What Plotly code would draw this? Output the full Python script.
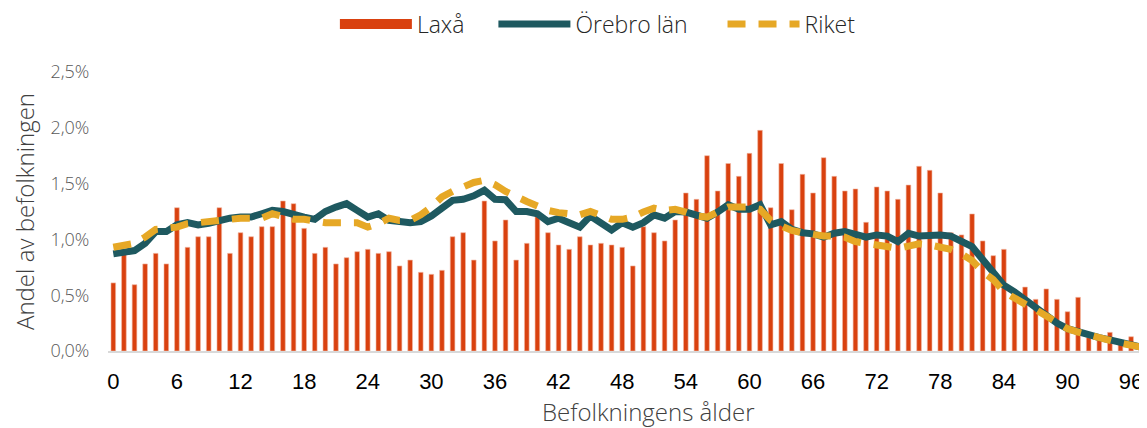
import plotly.graph_objects as go

# Ålder 0-97
ages = list(range(0, 98))

# Andel av befolkningen (%) per ålder
laxa = [0.61, 0.875, 0.594, 0.78, 0.875, 0.78, 1.284, 0.929, 1.024, 1.024,
        1.284, 0.875, 1.06, 1.024, 1.114, 1.114, 1.344, 1.32, 1.099, 0.875,
        0.929, 0.78, 0.836, 0.89, 0.911, 0.875, 0.89, 0.762, 0.815, 0.705,
        0.687, 0.723, 1.024, 1.06, 0.815, 1.344, 0.986, 1.174, 0.815, 0.965,
        1.22, 1.06, 0.95, 0.911, 1.024, 0.95, 0.965, 0.95, 0.929, 0.762,
        1.114, 1.06, 0.986, 1.174, 1.416, 1.359, 1.75, 1.434, 1.68, 1.565,
        1.771, 1.977, 1.284, 1.68, 1.266, 1.583, 1.416, 1.732, 1.565, 1.434,
        1.452, 1.153, 1.47, 1.434, 1.359, 1.487, 1.655, 1.619, 1.416, 1.06,
        1.04, 1.228, 0.986, 0.854, 0.911, 0.48, 0.573, 0.463, 0.556, 0.463,
        0.352, 0.481, 0.12, 0.10, 0.167, 0.07, 0.128, 0.03]

orebro = [0.87, 0.89, 0.90, 0.965, 1.07, 1.07, 1.13, 1.15, 1.13, 1.145,
          1.17, 1.19, 1.20, 1.20, 1.23, 1.26, 1.25, 1.22, 1.20, 1.18,
          1.25, 1.29, 1.32, 1.26, 1.20, 1.23, 1.17, 1.16, 1.15, 1.16,
          1.21, 1.28, 1.35, 1.36, 1.39, 1.44, 1.36, 1.355, 1.25, 1.25,
          1.23, 1.16, 1.19, 1.15, 1.11, 1.21, 1.15, 1.084, 1.15, 1.11,
          1.15, 1.22, 1.19, 1.25, 1.245, 1.22, 1.19, 1.245, 1.31, 1.27,
          1.27, 1.31, 1.13, 1.16, 1.09, 1.06, 1.05, 1.02, 1.055, 1.07,
          1.05, 1.02, 1.04, 1.03, 0.98, 1.055, 1.03, 1.04, 1.04, 1.03,
          0.98, 0.935, 0.82, 0.71, 0.59, 0.53, 0.455, 0.40, 0.32, 0.25,
          0.20, 0.17, 0.14, 0.12, 0.10, 0.075, 0.054, 0.033]

riket = [0.93, 0.95, 0.965, 1.02, 1.09, 1.10, 1.11, 1.14, 1.15, 1.17,
         1.18, 1.18, 1.19, 1.19, 1.19, 1.23, 1.20, 1.18, 1.18, 1.16,
         1.15, 1.15, 1.15, 1.15, 1.11, 1.14, 1.19, 1.17, 1.17, 1.22,
         1.29, 1.38, 1.43, 1.47, 1.51, 1.53, 1.49, 1.43, 1.38, 1.34,
         1.30, 1.26, 1.24, 1.235, 1.22, 1.25, 1.21, 1.18, 1.18, 1.20,
         1.245, 1.28, 1.26, 1.27, 1.245, 1.21, 1.20, 1.245, 1.29, 1.29,
         1.29, 1.27, 1.17, 1.12, 1.08, 1.06, 1.04, 1.03, 1.03, 1.02,
         0.98, 0.965, 0.965, 0.95, 0.92, 0.94, 0.96, 0.95, 0.935, 0.91,
         0.87, 0.81, 0.71, 0.64, 0.53, 0.47, 0.42, 0.37, 0.31, 0.25,
         0.20, 0.17, 0.14, 0.12, 0.095, 0.07, 0.054, 0.033]

tick_ages = list(range(0, 97, 6))
y_ticks = [0, 0.5, 1.0, 1.5, 2.0, 2.5]
y_labels = ["0,0%", "0,5%", "1,0%", "1,5%", "2,0%", "2,5%"]

light = "Open Sans, Lato, sans-serif"
bar_color = "#D9410F"
nb = "\u00a0"  # non-breaking spaces give room between legend entries

fig = go.Figure()

fig.add_trace(go.Bar(
    x=ages, y=laxa, name="Laxå", showlegend=False,
    marker=dict(color=bar_color, line=dict(color="#F1B9A4", width=0.6)),
))
# legend entry for the bars (wide rectangle like the original)
fig.add_trace(go.Scatter(
    x=[None], y=[None], name="Laxå" + nb * 4, mode="lines",
    line=dict(color=bar_color, width=13),
))
fig.add_trace(go.Scatter(
    x=ages, y=orebro, name="Örebro län" + nb * 5, mode="lines",
    line=dict(color="#1E5960", width=7),
))
fig.add_trace(go.Scatter(
    x=ages, y=riket, name="Riket", mode="lines",
    line=dict(color="#E6A826", width=7, dash="18px,13px"),
))

# x title placed as an annotation: in the original it sits right of centre
fig.add_annotation(
    text="Befolkningens ålder", xref="paper", yref="paper",
    x=0.52, y=0, xanchor="center", yanchor="middle", yshift=-60,
    showarrow=False, font=dict(size=24, color="#404040", family=light, weight=300),
)

# page body has an 8px margin, so the figure is sized/placed to compensate
fig.update_layout(
    width=1139, height=420,
    margin=dict(l=100, r=0, t=64, b=77),
    plot_bgcolor="white", paper_bgcolor="white",
    bargap=0.56,
    font=dict(family=light, color="#404040", weight=300),
    showlegend=True,
    legend=dict(
        orientation="h", xref="container", yref="container",
        x=0.287, xanchor="left", y=0.962, yanchor="middle",
        itemwidth=72,
        font=dict(size=23, color="#262626", family=light, weight=300),
        traceorder="normal",
    ),
    xaxis=dict(
        range=[-0.5, 97.5], automargin=False,
        tickmode="array", tickvals=tick_ages, ticktext=[str(a) for a in tick_ages],
        ticks="outside", ticklen=10, tickcolor="rgba(0,0,0,0)",
        tickfont=dict(size=22, color="#000000", family="Liberation Sans, Arial", weight=400),
        showline=True, linecolor="#D9D9D9", linewidth=2,
        showgrid=False, zeroline=False,
    ),
    yaxis=dict(
        range=[0, 2.5], automargin=False,
        tickmode="array", tickvals=y_ticks, ticktext=y_labels,
        ticks="outside", ticklen=14, tickcolor="rgba(0,0,0,0)",
        tickfont=dict(size=18, color="#595959"),
        showline=False, showgrid=False, zeroline=False,
        title=dict(text="Andel av befolkningen", font=dict(size=24, color="#404040"), standoff=10),
    ),
)

fig.write_html("out.html")
